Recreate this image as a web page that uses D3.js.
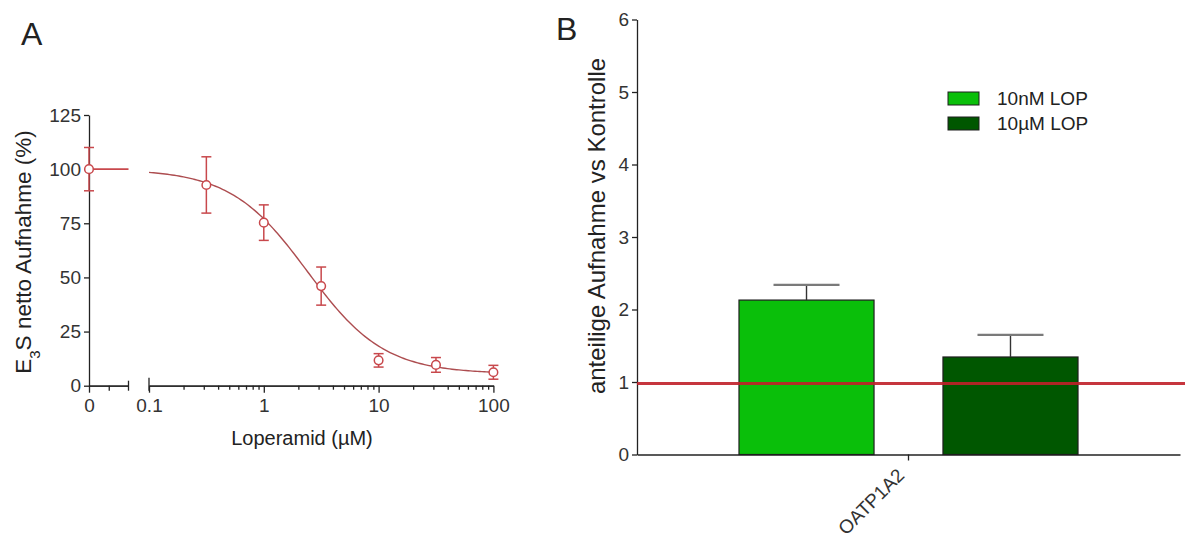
<!DOCTYPE html>
<html>
<head>
<meta charset="utf-8">
<script src="https://cdnjs.cloudflare.com/ajax/libs/d3/7.8.5/d3.min.js"></script>
<style>
  body { margin: 0; background: #fff; }
  svg text { font-family: "Liberation Sans", Arial, sans-serif; fill: #222; }
  .axis path, .axis line { stroke: #222; stroke-width: 1.3; }
  .axis text { font-size: 19px; fill: #333; }
</style>
</head>
<body>
<svg id="fig" width="1190" height="540"></svg>
<script>
// ---- panel A data (loperamide concentration vs E3S uptake)
const concs = [0, 0.316, 1, 3.16, 10, 31.6, 100];
const uptake = [100, 92.7, 75.3, 46, 11.7, 9.6, 6.2];
const uptakeErr = [10, 13, 8.2, 8.8, 3.1, 3.4, 3.2];
const yTicksA = [0, 25, 50, 75, 100, 125];
const xTicksA = [0.1, 1, 10, 100];
// fitted sigmoid: top, bottom, logIC50, hill
const fitParams = [100, 5.5, 0.38, 1.3];

// ---- panel B data
const groups = ["OATP1A2"];
const seriesB = ["10nM LOP", "10µM LOP"];
const ratioB = [2.13, 1.345];
const ratioErrB = [0.21, 0.305];
const yTicksB = [0, 1, 2, 3, 4, 5, 6];
const refLine = [0.98];
const colorsB = ["#0abf0a", "#005700"];

const svg = d3.select("#fig");
const red = "#c8484c";

// ================= panel A =================
const y0 = 385.7, yTop = 115;
const yA = d3.scaleLinear().domain([0, 125]).range([y0, yTop]);
const xZero = d3.scaleLinear().domain([0, 0.02]).range([89, 128.5]);
const xLog = d3.scaleLog().domain([0.1, 100]).range([149, 493.4]);
const xOf = c => c === 0 ? xZero(0) : xLog(c);

const gA = svg.append("g");

// y axis
gA.append("g").attr("class", "axis")
  .attr("transform", `translate(${xZero(0)},0)`)
  .call(d3.axisLeft(yA).tickValues(yTicksA).tickSize(5).tickSizeOuter(0).tickPadding(3));

// x axis, zero segment
gA.append("g").attr("class", "axis")
  .attr("transform", `translate(0,${y0})`)
  .call(d3.axisBottom(xZero).tickValues([0]).tickSize(7).tickSizeOuter(0).tickPadding(6)
    .tickFormat(d3.format("d")));
gA.append("g").attr("class", "axis")
  .attr("transform", `translate(0,${y0})`)
  .call(d3.axisBottom(xZero).tickValues([0.01]).tickSize(5).tickSizeOuter(0).tickFormat(""));

// x axis, log segment
const minorTicks = [];
[0.1, 1, 10].forEach(d => { for (let k = 2; k <= 9; k++) minorTicks.push(d * k); });
gA.append("g").attr("class", "axis")
  .attr("transform", `translate(0,${y0})`)
  .call(d3.axisBottom(xLog).tickValues(minorTicks).tickSize(4).tickSizeOuter(0).tickFormat(""));
gA.append("g").attr("class", "axis")
  .attr("transform", `translate(0,${y0})`)
  .call(d3.axisBottom(xLog).tickValues(xTicksA).tickSize(7).tickSizeOuter(0).tickPadding(6)
    .tickFormat(d3.format("~g")));

// break marks
gA.append("line").attr("x1", xZero(0.02)).attr("x2", xZero(0.02))
  .attr("y1", y0 - 5).attr("y2", y0 + 5).attr("stroke", "#222").attr("stroke-width", 1.3);
gA.append("line").attr("x1", xLog(0.1)).attr("x2", xLog(0.1))
  .attr("y1", y0 - 8).attr("y2", y0 + 5).attr("stroke", "#222").attr("stroke-width", 1.3);

// fitted curve
const [fitTop, fitBottom, logIC50, hill] = fitParams;
const fit = c => fitBottom + (fitTop - fitBottom) / (1 + Math.pow(10, (Math.log10(c) - logIC50) * hill));
const curveX = d3.range(-1, 2.001, 0.02).map(l => Math.pow(10, l));
gA.append("path")
  .datum(curveX)
  .attr("fill", "none").attr("stroke", "#ad4d50").attr("stroke-width", 1.4)
  .attr("d", d3.line().x(c => xLog(c)).y(c => yA(fit(c))));
// top plateau over the zero segment
gA.append("line")
  .attr("x1", xZero(0)).attr("x2", xZero(0.02))
  .attr("y1", yA(fitTop)).attr("y2", yA(fitTop))
  .attr("stroke", red).attr("stroke-width", 1.6);

// error bars + points
const pts = gA.selectAll(".pt").data(concs).enter().append("g");
pts.append("line")
  .attr("x1", c => xOf(c)).attr("x2", c => xOf(c))
  .attr("y1", (c, i) => yA(uptake[i] + uptakeErr[i]))
  .attr("y2", (c, i) => yA(uptake[i] - uptakeErr[i]))
  .attr("stroke", red).attr("stroke-width", 1.5);
[1, -1].forEach(s => {
  pts.append("line")
    .attr("x1", c => xOf(c) - 5).attr("x2", c => xOf(c) + 5)
    .attr("y1", (c, i) => yA(uptake[i] + s * uptakeErr[i]))
    .attr("y2", (c, i) => yA(uptake[i] + s * uptakeErr[i]))
    .attr("stroke", red).attr("stroke-width", 1.5);
});
pts.append("circle")
  .attr("cx", c => xOf(c)).attr("cy", (c, i) => yA(uptake[i]))
  .attr("r", 4.3).attr("fill", "#fff").attr("stroke", red).attr("stroke-width", 1.5);

// labels
svg.append("text").attr("x", 21).attr("y", 45).style("font-size", "32px").text("A");
svg.append("text").attr("x", 302).attr("y", 445).attr("text-anchor", "middle")
  .style("font-size", "20px").text("Loperamid (µM)");
const yl = svg.append("text")
  .attr("transform", `translate(31,252) rotate(-90)`)
  .attr("text-anchor", "middle").style("font-size", "22.5px");
yl.append("tspan").text("E");
yl.append("tspan").attr("baseline-shift", "sub").style("font-size", "15px").text("3");
yl.append("tspan").text("S netto Aufnahme (%)");

// ================= panel B =================
const yB0 = 454.5;
const yB = d3.scaleLinear().domain([0, 6]).range([yB0, 19.5]);
const xB = d3.scaleBand().domain(groups).range([637, 1180]).padding(0);
const xSub = d3.scaleBand().domain(seriesB).range([0, xB.bandwidth()])
  .paddingInner(0.338).paddingOuter(0.5);

const gB = svg.append("g");
gB.append("g").attr("class", "axis")
  .attr("transform", `translate(637,0)`)
  .call(d3.axisLeft(yB).tickValues(yTicksB).tickSize(5).tickSizeOuter(0).tickPadding(3)
    .tickFormat(d3.format("d")));
const xAxB = gB.append("g").attr("class", "axis")
  .attr("transform", `translate(0,${yB0})`)
  .call(d3.axisBottom(xB).tickSize(6).tickSizeOuter(0));
xAxB.selectAll(".tick text")
  .attr("text-anchor", "end")
  .attr("x", 0).attr("y", 0).attr("dy", 0)
  .attr("transform", "translate(-3,22) rotate(-45)");

// bars
const barX = s => xB(groups[0]) + xSub(s);
gB.selectAll(".bar").data(seriesB).enter().append("rect")
  .attr("x", s => barX(s))
  .attr("y", (s, i) => yB(ratioB[i]))
  .attr("width", xSub.bandwidth())
  .attr("height", (s, i) => yB0 - yB(ratioB[i]))
  .attr("fill", (s, i) => colorsB[i])
  .attr("stroke", "#1e1e1e").attr("stroke-width", 1.2);

// error bars (upper only)
gB.selectAll(".eb").data(seriesB).enter().append("line")
  .attr("x1", s => barX(s) + xSub.bandwidth() / 2)
  .attr("x2", s => barX(s) + xSub.bandwidth() / 2)
  .attr("y1", (s, i) => yB(ratioB[i]))
  .attr("y2", (s, i) => yB(ratioB[i] + ratioErrB[i]))
  .attr("stroke", "#333").attr("stroke-width", 1.4);
gB.selectAll(".cap").data(seriesB).enter().append("line")
  .attr("x1", s => barX(s) + xSub.bandwidth() / 2 - 33)
  .attr("x2", s => barX(s) + xSub.bandwidth() / 2 + 33)
  .attr("y1", (s, i) => yB(ratioB[i] + ratioErrB[i]))
  .attr("y2", (s, i) => yB(ratioB[i] + ratioErrB[i]))
  .attr("stroke", "#7a7a7a").attr("stroke-width", 2.2);

// reference line
gB.append("line")
  .attr("x1", 637).attr("x2", 1185)
  .attr("y1", yB(refLine[0])).attr("y2", yB(refLine[0]))
  .attr("stroke", "#c0202a").attr("stroke-width", 3).attr("opacity", 0.9);

// legend
const leg = gB.selectAll(".leg").data(seriesB).enter().append("g")
  .attr("transform", (s, i) => `translate(948,${92 + i * 25})`);
leg.append("rect").attr("width", 31).attr("height", 13)
  .attr("fill", (s, i) => colorsB[i]).attr("stroke", "#1e1e1e").attr("stroke-width", 1);
leg.append("text").attr("x", 49).attr("y", 13).style("font-size", "19px").text(s => s);

svg.append("text").attr("x", 556).attr("y", 40).style("font-size", "32px").text("B");
svg.append("text")
  .attr("transform", `translate(605,226) rotate(-90)`)
  .attr("text-anchor", "middle").style("font-size", "24px")
  .text("anteilige Aufnahme vs Kontrolle");
</script>
</body>
</html>
